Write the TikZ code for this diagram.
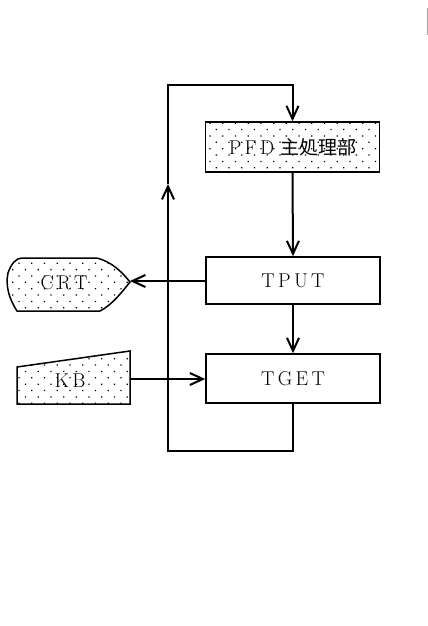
\documentclass[tikz,border=0pt]{standalone}
\usepackage{fontspec}
\newfontfamily\jp{Noto Sans CJK JP}
\usetikzlibrary{arrows.meta,patterns.meta}
\begin{document}
\begin{tikzpicture}[x=1pt,y=-1pt,
  dotfill/.style={pattern={Dots[distance=9pt,angle=45,radius=0.9pt]}},
  lbl/.style={font=\fontsize{20}{22}\selectfont},
  proc/.style={draw,line width=1.5pt,minimum width=174pt,inner sep=0pt,lbl},
  conn/.style={line width=2pt},
  arr/.style={conn,-{Straight Barb[length=13pt,width=12pt,line width=2pt]}}]
\useasboundingbox (0,0) rectangle (428,626);
\fill[gray!70] (426.5,8) rectangle (428,35);
% boxes
\node[proc,dotfill,minimum height=50pt] (pfd) at (292.5,147) {P\,F\,D\ {\jp\fontsize{19}{22}\selectfont 主処理部}};
\node[proc,minimum height=47pt] (tput) at (293,280.5) {T\,P\,U\,T};
\node[proc,minimum height=49pt] (tget) at (293,378.5) {T\,G\,E\,T};
% CRT display shape
\draw[line width=1.5pt,dotfill] (22,258) -- (97,258)
  .. controls (112,262) and (122,272) .. (130,282)
  .. controls (122,292) and (112,305) .. (100,311) -- (17,311)
  .. controls (10,300) and (5,287) .. (8,273)
  .. controls (11,264) and (16,258) .. (22,258) -- cycle;
\node[lbl] (crt) at (64,283) {C\,R\,T};
\coordinate (crttip) at (130,281);
% KB shape
\draw[line width=1.5pt,dotfill] (17,367) -- (130,351) -- (130,404) -- (17,404) -- cycle;
\node[lbl] (kb) at (70,381) {K\,B};
\coordinate (kbr) at (130,379);
% loop coordinates
\coordinate (bl) at (168,451);
\coordinate (mid) at (168,184);
\coordinate (tl) at (168,85);
% connectors
\draw[arr] (pfd.south) -- (tput.north);
\draw[arr] (tput.south) -- (tget.north);
\draw[arr] (tput.west |- crttip) -- (crttip);
\draw[arr] (kbr) -- (tget.west |- kbr);
\draw[arr] (tget.south) |- (bl) -- (mid);
\draw[arr] (mid) -- (tl) -| (pfd.north);
\end{tikzpicture}
\end{document}
